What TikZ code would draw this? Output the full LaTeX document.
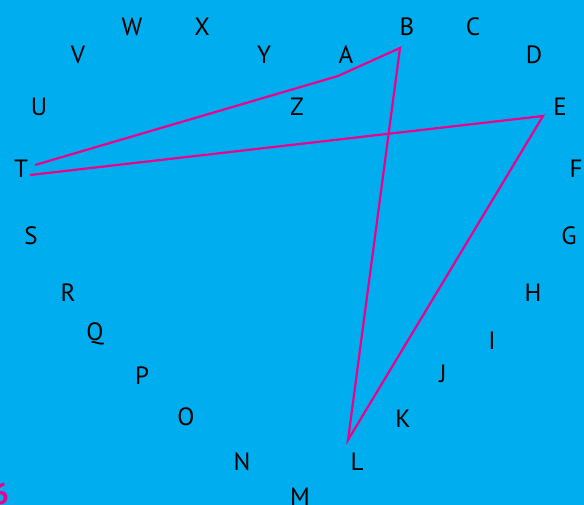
\documentclass[tikz,border=0pt]{standalone}
\usepackage{fontspec}
\setmainfont{PT Sans}
\definecolor{bgblue}{HTML}{00AEEF}
\definecolor{pathpink}{HTML}{EC008C}

\begin{document}
\begin{tikzpicture}[x=1pt,y=-1pt,
    letter/.style={font=\fontsize{25}{25}\selectfont,text=black,inner sep=0pt},
    route/.style={draw=pathpink,line width=2.2pt,line join=miter}]

    % BACKGROUND
    \fill[bgblue] (0,0) rectangle (584,505);
    \useasboundingbox (0,0) rectangle (584,505);

    % TOP ROW
    \node[letter] (W) at (132,27) {W};
    \node[letter] (X) at (202,27) {X};
    \node[letter] (B) at (407,27) {B};
    \node[letter] (C) at (473,27) {C};
    \node[letter] (V) at (78,55) {V};
    \node[letter] (Y) at (264,55) {Y};
    \node[letter] (A) at (346,55) {A};
    \node[letter] (D) at (534,55) {D};
    \node[letter] (U) at (39,107) {U};
    \node[letter] (Z) at (297,107) {Z};
    \node[letter] (E) at (560,107) {E};

    % SIDES
    \node[letter] (T) at (21,169) {T};
    \node[letter] (F) at (576,169) {F};
    \node[letter] (S) at (31,236) {S};
    \node[letter] (G) at (569,236) {G};
    \node[letter] (R) at (68,293) {R};
    \node[letter] (H) at (533,293) {H};
    \node[letter] (Q) at (95,334) {Q};
    \node[letter] (I) at (492,341) {I};

    % BOTTOM
    \node[letter] (P) at (142,376) {P};
    \node[letter] (J) at (443,374) {J};
    \node[letter] (O) at (186,417) {O};
    \node[letter] (K) at (403,419) {K};
    \node[letter] (N) at (242,462) {N};
    \node[letter] (L) at (357,462) {L};
    \node[letter] (M) at (300,497) {M};

    \node[anchor=north east,inner sep=0pt,text=pathpink,
        font=\fontsize{30}{30}\selectfont\bfseries] (six) at (9,483) {6};

    % ROUTE
    \coordinate (t1) at (35,165);
    \coordinate (a) at (338,76);
    \coordinate (b) at (400,48);
    \coordinate (l) at (348,440);
    \coordinate (e) at (543,116);
    \coordinate (t2) at (30,175);
    \draw[route] (t1) -- (a) -- (b) -- (l) -- (e) -- (t2);

\end{tikzpicture}
\end{document}
